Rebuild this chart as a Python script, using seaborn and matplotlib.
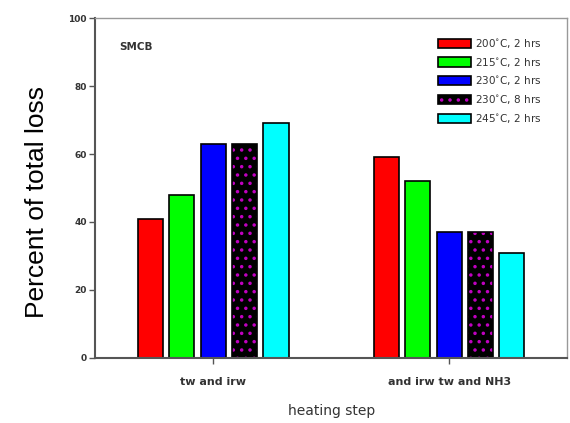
import matplotlib
matplotlib.use("Agg")
import matplotlib.pyplot as plt
import matplotlib.colors as mcolors
import seaborn as sns
import pandas as pd

steps = ["tw and irw", "and irw tw and NH3"]
conditions = ["200$^{\\circ}$C, 2 hrs", "215$^{\\circ}$C, 2 hrs", "230$^{\\circ}$C, 2 hrs",
              "230$^{\\circ}$C, 8 hrs", "245$^{\\circ}$C, 2 hrs"]
values_step1 = [41, 48, 63, 63, 69]
values_step2 = [59, 52, 37, 37, 31]
colors = ["#ff0000", "#00ff00", "#0000ff", "#000000", "#00ffff"]
y_ticks = [0, 20, 40, 60, 80, 100]

rows = []
for s, vals in zip(steps, [values_step1, values_step2]):
    for c, v in zip(conditions, vals):
        rows.append({"step": s, "cond": c, "val": v})
df = pd.DataFrame(rows)

sns.set_style("white")
plt.rcParams["font.family"] = ["DejaVu Sans"]
plt.rcParams["hatch.linewidth"] = 1.3

fig = plt.figure(figsize=(5.7, 4.23), dpi=100)
ax = fig.add_axes([0.167, 0.154, 0.828, 0.803])

sns.barplot(data=df, x="step", y="val", hue="cond", order=steps, hue_order=conditions,
            palette=colors, width=0.665, gap=0.2, edgecolor="black", linewidth=1.2,
            saturation=1, ax=ax, legend=True)

dot_color = mcolors.to_rgba("#c000c0")
for p in ax.containers[3]:
    p.set_hatch("..")
    p._hatch_color = dot_color

ax.set_xlim(-0.5, 1.5)
ax.set_ylim(0, 100)
ax.set_yticks(y_ticks)
ax.set_yticklabels([str(t) for t in y_ticks], fontsize=6.5, fontweight="bold", color="#333333")
ax.set_xticklabels(steps, fontsize=8, fontweight="bold", color="#333333")
ax.tick_params(axis="y", direction="out", length=4, width=1, color="#555555", left=True, pad=2)
ax.tick_params(axis="x", direction="out", length=4, width=1, color="#555555", bottom=True, pad=10)

for side in ["left", "bottom"]:
    ax.spines[side].set_color("#555555")
    ax.spines[side].set_linewidth(1.5)
for side in ["top", "right"]:
    ax.spines[side].set_color("#999999")
    ax.spines[side].set_linewidth(1.0)

ax.set_ylabel("Percent of total loss", fontsize=19, color="black", family="Liberation Sans")
ax.yaxis.set_label_coords(-0.097, 0.46)
ax.set_xlabel("heating step", fontsize=10, color="#333333", labelpad=12)

ax.text(0.05, 0.905, "SMCB", transform=ax.transAxes, fontsize=7.5, fontweight="bold",
        color="#333333")

leg = ax.legend(loc="upper right", frameon=False, fontsize=7.5, handlelength=3.2,
                handleheight=1.0, labelspacing=0.55, borderaxespad=0.9, handletextpad=0.4,
                bbox_to_anchor=(0.975, 0.985))
for t in leg.get_texts():
    t.set_color("#333333")
h = leg.legend_handles[3]
h.set_hatch("..")
h._hatch_color = dot_color

fig.savefig("out.png", dpi=100)
